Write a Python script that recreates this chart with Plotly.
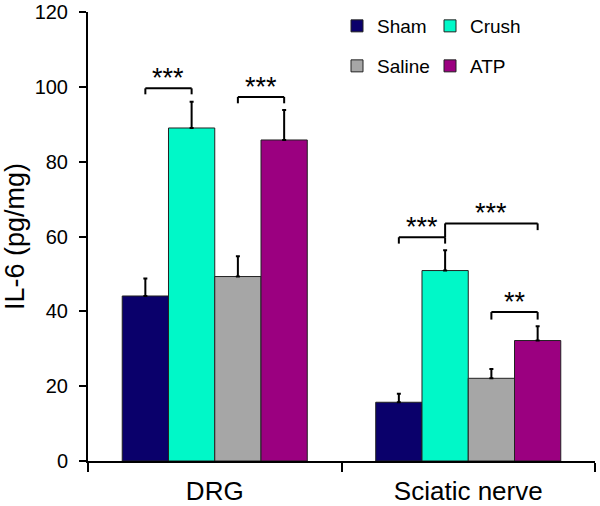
import plotly.graph_objects as go

# ---- data ----
groups = ["DRG", "Sciatic nerve"]
series_names = ["Sham", "Crush", "Saline", "ATP"]
sham = [44.1, 15.7]
crush = [89.0, 50.9]
saline = [49.3, 22.1]
atp = [85.8, 32.2]
sham_err = [4.7, 2.3]
crush_err = [7.0, 5.4]
saline_err = [5.4, 2.5]
atp_err = [8.0, 3.8]
colors = ["#0a006b", "#00f8c8", "#a6a6a6", "#9b0080"]

# significance brackets: (group index, left series, right series, label, top y, left leg bottom, right leg bottom)
brackets = [
    (0, 0, 1, "***", 99.6, 98.0, 98.0),
    (0, 2, 3, "***", 97.3, 95.6, 95.6),
    (1, 0, 1, "***", 59.8, 58.1, 58.1),
    (1, 1, 3, "***", 63.5, 59.8, 61.7),
    (1, 2, 3, "**", 39.8, 37.8, 37.8),
]

values = [sham, crush, saline, atp]
errors = [sham_err, crush_err, saline_err, atp_err]

BARGAP = 0.27
FONT = "Liberation Sans, Arial, sans-serif"
W, H = 600, 506
ML, MR, MT, MB = 88, 5, 12, 45

fig = go.Figure()
legend_ids = ["legend", "legend2", "legend3", "legend4"]
for k, name in enumerate(series_names):
    fig.add_trace(go.Bar(
        name=name, x=groups, y=values[k],
        marker=dict(color=colors[k], line=dict(color="#222222", width=1)),
        error_y=dict(type="data", array=errors[k], arrayminus=[0] * len(groups),
                     symmetric=False, color="black", thickness=2, width=2),
        legend=legend_ids[k],
    ))

# bar centre offsets within a category (in category units), from bargap
n = len(series_names)
bw = (1 - BARGAP) / n
offsets = [-(1 - BARGAP) / 2 + bw * (k + 0.5) for k in range(n)]

shapes = []
annotations = []
for g, a, b, label, ytop, yl, yr in brackets:
    xa = g + offsets[a]
    xb = g + offsets[b]
    line = dict(color="black", width=2)
    shapes.append(dict(type="line", xref="x", yref="y", x0=xa, x1=xb, y0=ytop, y1=ytop, line=line))
    shapes.append(dict(type="line", xref="x", yref="y", x0=xa, x1=xa, y0=yl, y1=ytop, line=line))
    shapes.append(dict(type="line", xref="x", yref="y", x0=xb, x1=xb, y0=yr, y1=ytop, line=line))
    annotations.append(dict(x=(xa + xb) / 2, y=ytop, xref="x", yref="y", text=label,
                            showarrow=False, yanchor="bottom", yshift=-7,
                            font=dict(family=FONT, size=27, color="black")))

# legend anchor positions in pixels (left edge, vertical centre)
legend_pos = [(337, 26), (430, 26), (337, 66), (430, 66)]
pw = W - ML - MR
ph = H - MT - MB
legend_layouts = {}
for lid, (sx, sy) in zip(legend_ids, legend_pos):
    legend_layouts[lid] = dict(
        xref="paper", yref="paper", x=(sx - ML) / pw, y=(H - MB - sy) / ph,
        xanchor="left", yanchor="middle", bgcolor="rgba(0,0,0,0)", borderwidth=0,
        font=dict(family=FONT, size=19, color="black"),
    )

fig.update_layout(
    width=W, height=H,
    margin=dict(l=ML, r=MR, t=MT, b=MB, autoexpand=False),
    paper_bgcolor="white", plot_bgcolor="white",
    barmode="group", bargap=BARGAP, bargroupgap=0,
    showlegend=True,
    shapes=shapes, annotations=annotations,
    font=dict(family=FONT, color="black"),
    xaxis=dict(
        type="category", tickson="boundaries", ticks="outside", ticklen=9, tickwidth=2,
        tickcolor="black", showline=True, linecolor="black", linewidth=2,
        showgrid=False, tickfont=dict(family=FONT, size=26, color="black"),
        ticklabelstandoff=6, tickangle=0,
    ),
    yaxis=dict(
        range=[0, 120], tickvals=[0, 20, 40, 60, 80, 100, 120],
        ticks="outside", ticklen=7, tickwidth=2, tickcolor="black",
        showline=True, linecolor="black", linewidth=2, showgrid=False, zeroline=False,
        tickfont=dict(family=FONT, size=20, color="black"),
        ticklabeloverflow="allow", ticklabelstandoff=7,
        title=dict(text="IL-6 (pg/mg)", font=dict(family=FONT, size=27, color="black"), standoff=8),
    ),
    **legend_layouts,
)

# remove the default 8px page margin so the figure fills the window exactly
fig.write_html("out.html", config={"displayModeBar": False},
               post_script="document.body.style.margin='0';")
